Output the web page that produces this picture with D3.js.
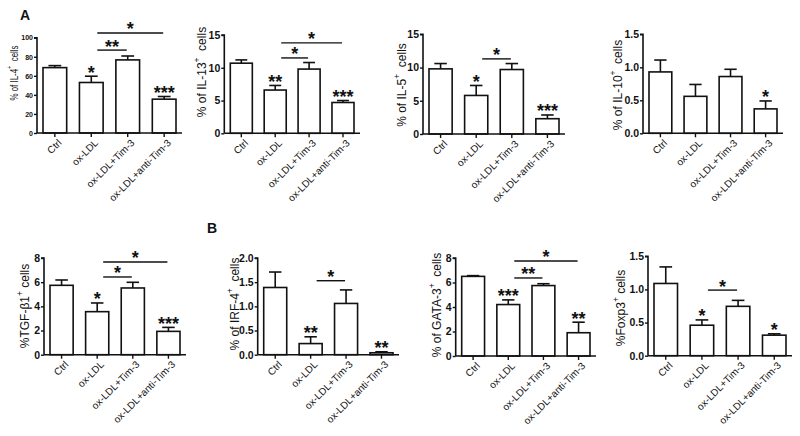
<!DOCTYPE html>
<html>
<head>
<meta charset="utf-8">
<script src="https://cdn.jsdelivr.net/npm/d3@7"></script>
<style>
  html, body { margin: 0; padding: 0; background: #fff; }
  svg { display: block; }
  text { font-family: "Liberation Sans", Arial, sans-serif; fill: #111; }
</style>
</head>
<body>
<svg id="chart" width="800" height="436"></svg>
<script>
// ---------------- DATA ----------------
const categories = ["Ctrl", "ox-LDL", "ox-LDL+Tim-3", "ox-LDL+anti-Tim-3"];

const il4Mean  = [68.6, 53.0, 76.7, 35.5];
const il4Err   = [70.7, 59.6, 80.8, 38.3];
const il13Mean = [10.7, 6.6, 9.8, 4.7];
const il13Err  = [11.2, 7.3, 10.8, 5.0];
const il5Mean  = [9.8, 5.8, 9.7, 2.3];
const il5Err   = [10.6, 7.3, 10.6, 2.86];
const il10Mean = [0.93, 0.56, 0.86, 0.37];
const il10Err  = [1.11, 0.74, 0.97, 0.49];
const tgfMean  = [5.74, 3.56, 5.52, 1.93];
const tgfErr   = [6.18, 4.28, 5.99, 2.26];
const irf4Mean = [1.39, 0.23, 1.06, 0.04];
const irf4Err  = [1.71, 0.37, 1.34, 0.06];
const gata3Mean = [6.5, 4.2, 5.75, 1.9];
const gata3Err  = [6.56, 4.58, 5.9, 2.76];
const foxp3Mean = [1.09, 0.46, 0.745, 0.31];
const foxp3Err  = [1.34, 0.54, 0.835, 0.33];

// significance marks above bars
const il4Stars   = ["", "*", "", "***"];
const il13Stars  = ["", "**", "", "***"];
const il5Stars   = ["", "*", "", "***"];
const il10Stars  = ["", "", "", "*"];
const tgfStars   = ["", "*", "", "***"];
const irf4Stars  = ["", "**", "", "**"];
const gata3Stars = ["", "***", "", "**"];
const foxp3Stars = ["", "*", "", "*"];

// comparison brackets: [from index, to index, height value, mark]
const il4Brackets   = [[1, 2, 87, "**"], [1, 3, 105, "*"]];
const il13Brackets  = [[1, 2, 11.5, "*"], [1, 3, 13.8, "*"]];
const il5Brackets   = [[1, 2, 11.3, "*"]];
const il10Brackets  = [];
const tgfBrackets   = [[1, 2, 6.43, "*"], [1, 3, 7.67, "*"]];
const irf4Brackets  = [[1, 2, 1.53, "*"]];
const gata3Brackets = [[1, 2, 6.37, "**"], [1, 3, 7.76, "*"]];
const foxp3Brackets = [[1, 2, 0.99, "*"]];

// tick values
const il4Ticks   = [0, 20, 40, 60, 80, 100];
const il13Ticks  = [0, 5, 10, 15];
const il5Ticks   = [0, 5, 10, 15];
const il10Ticks  = [0, 0.5, 1.0, 1.5];
const tgfTicks   = [0, 2, 4, 6, 8];
const irf4Ticks  = [0, 0.5, 1.0, 1.5, 2.0];
const gata3Ticks = [0, 2, 4, 6, 8];
const foxp3Ticks = [0, 0.5, 1.0, 1.5];

// y-axis titles: [before superscript, superscript, after]
const il4Title   = ["% of IL-4", "+", "\u00a0\u00a0cells"];
const il13Title  = ["% of IL-13", "+", "\u00a0\u00a0cells"];
const il5Title   = ["% of IL-5", "+", "\u00a0\u00a0cells"];
const il10Title  = ["% of IL-10", "+", "\u00a0\u00a0cells"];
const tgfTitle   = ["%TGF-β1", "+", "\u00a0cells"];
const irf4Title  = ["% of IRF-4", "+", "\u00a0\u00a0cells"];
const gata3Title = ["% of GATA-3", "+", "\u00a0\u00a0cells"];
const foxp3Title = ["%Foxp3", "+", "\u00a0cells"];

// ---------------- LAYOUT ----------------
const panels = [
  { mean: il4Mean, err: il4Err, stars: il4Stars, br: il4Brackets, ticks: il4Ticks, title: il4Title,
    fmt: d3.format("d"), box: [37, 182, 37.7, 133], ylab: [13, 73], tickFont: 7, titleFont: 11, titleSx: 0.72 },
  { mean: il13Mean, err: il13Err, stars: il13Stars, br: il13Brackets, ticks: il13Ticks, title: il13Title,
    fmt: d3.format("d"), box: [224.3, 360, 35, 133.3], ylab: [202, 72], tickFont: 10.5, titleFont: 12, titleSx: 1 },
  { mean: il5Mean, err: il5Err, stars: il5Stars, br: il5Brackets, ticks: il5Ticks, title: il5Title,
    fmt: d3.format("d"), box: [423, 565, 34.3, 134], ylab: [402, 85], tickFont: 10.5, titleFont: 12, titleSx: 1 },
  { mean: il10Mean, err: il10Err, stars: il10Stars, br: il10Brackets, ticks: il10Ticks, title: il10Title,
    fmt: d3.format(".1f"), box: [643, 783, 34.3, 133.3], ylab: [618, 85], tickFont: 10.5, titleFont: 12, titleSx: 1 },
  { mean: tgfMean, err: tgfErr, stars: tgfStars, br: tgfBrackets, ticks: tgfTicks, title: tgfTitle,
    fmt: d3.format("d"), box: [44, 186, 258, 354.7], ylab: [25, 306], tickFont: 10.5, titleFont: 12, titleSx: 1 },
  { mean: irf4Mean, err: irf4Err, stars: irf4Stars, br: irf4Brackets, ticks: irf4Ticks, title: irf4Title,
    fmt: d3.format(".1f"), box: [257.7, 399, 258, 354.7], ylab: [235, 304], tickFont: 10.5, titleFont: 12, titleSx: 1 },
  { mean: gata3Mean, err: gata3Err, stars: gata3Stars, br: gata3Brackets, ticks: gata3Ticks, title: gata3Title,
    fmt: d3.format("d"), box: [455.7, 596, 258, 356], ylab: [437, 305], tickFont: 10.5, titleFont: 12, titleSx: 1 },
  { mean: foxp3Mean, err: foxp3Err, stars: foxp3Stars, br: foxp3Brackets, ticks: foxp3Ticks, title: foxp3Title,
    fmt: d3.format(".1f"), box: [648, 792, 256.3, 355.7], ylab: [621, 308], tickFont: 10.5, titleFont: 12, titleSx: 1 }
];

const svg = d3.select("#chart");

panels.forEach(p => {
  const [xl, xr, yt, yb] = p.box;
  const ymax = p.ticks[p.ticks.length - 1];
  const x = d3.scaleBand().domain(categories).range([xl + 6, xr - 6]).paddingInner(0.35).paddingOuter(0);
  const y = d3.scaleLinear().domain([0, ymax]).range([yb, yt]);
  const g = svg.append("g");
  const bw = x.bandwidth();
  const cx = i => x(categories[i]) + bw / 2;

  // bars
  g.selectAll("rect.bar").data(p.mean).enter().append("rect")
    .attr("x", (d, i) => x(categories[i]))
    .attr("y", d => y(d))
    .attr("width", bw)
    .attr("height", d => y(0) - y(d))
    .attr("fill", "#fff").attr("stroke", "#111").attr("stroke-width", 1.6);

  // error bars (upper)
  p.err.forEach((e, i) => {
    g.append("line").attr("x1", cx(i)).attr("x2", cx(i)).attr("y1", y(p.mean[i])).attr("y2", y(e))
      .attr("stroke", "#111").attr("stroke-width", 1.6);
    g.append("line").attr("x1", cx(i) - bw * 0.27).attr("x2", cx(i) + bw * 0.27).attr("y1", y(e)).attr("y2", y(e))
      .attr("stroke", "#111").attr("stroke-width", 1.6);
  });

  // y axis
  const ya = d3.axisLeft(y).tickValues(p.ticks).tickFormat(p.fmt).tickSize(3).tickPadding(1);
  const yag = g.append("g").attr("transform", `translate(${xl},0)`).call(ya);
  yag.select(".domain").attr("stroke", "#111").attr("stroke-width", 1.6).attr("d", `M-3,${yt}H0V${yb}`);
  yag.selectAll(".tick line").attr("stroke", "#111").attr("stroke-width", 1.4);
  yag.selectAll(".tick text").attr("font-size", p.tickFont).attr("font-weight", "bold")
    .attr("font-family", "Liberation Sans, Arial, sans-serif").attr("fill", "#111");

  // x axis
  const xa = d3.axisBottom(x).tickSize(4).tickSizeOuter(0);
  const xag = g.append("g").attr("transform", `translate(0,${yb})`).call(xa);
  xag.select(".domain").attr("stroke", "#111").attr("stroke-width", 1.6).attr("d", `M${xl},0H${xr}`);
  xag.selectAll(".tick line").attr("stroke", "#111").attr("stroke-width", 1.4);
  xag.selectAll(".tick text")
    .attr("font-size", 10).attr("font-family", "Liberation Sans, Arial, sans-serif").attr("fill", "#111")
    .attr("text-anchor", "end")
    .attr("x", 0).attr("y", 0).attr("dy", "0.35em")
    .attr("transform", "translate(5,8) rotate(-45)");

  // y title
  const t = g.append("text")
    .attr("transform", `translate(${p.ylab[0]},${p.ylab[1]}) rotate(-90) scale(${p.titleSx},1)`)
    .attr("text-anchor", "middle").attr("dominant-baseline", "central")
    .attr("font-size", p.titleFont);
  t.append("tspan").text(p.title[0]);
  t.append("tspan").text(p.title[1]).attr("font-size", p.titleFont * 0.7).attr("dy", -p.titleFont * 0.4);
  t.append("tspan").text(p.title[2]).attr("dy", p.titleFont * 0.4);

  // stars above bars
  p.stars.forEach((s, i) => {
    if (!s) return;
    g.append("text").attr("x", cx(i)).attr("y", y(p.err[i]) + 2.5)
      .attr("text-anchor", "middle").attr("font-size", 18).attr("font-weight", "bold").text(s);
  });

  // brackets
  p.br.forEach(b => {
    const x1 = cx(b[0]) + 6, x2 = cx(b[1]) - 1, yy = y(b[2]);
    g.append("line").attr("x1", x1).attr("x2", x2).attr("y1", yy).attr("y2", yy)
      .attr("stroke", "#111").attr("stroke-width", 1.4);
    g.append("text").attr("x", (x1 + x2) / 2).attr("y", yy + 2.5)
      .attr("text-anchor", "middle").attr("font-size", 18).attr("font-weight", "bold").text(b[3]);
  });
});

// panel letters
svg.append("text").attr("x", 20).attr("y", 20).attr("font-size", 14).attr("font-weight", "bold").text("A");
svg.append("text").attr("x", 207).attr("y", 233).attr("font-size", 14).attr("font-weight", "bold").text("B");
</script>
</body>
</html>
